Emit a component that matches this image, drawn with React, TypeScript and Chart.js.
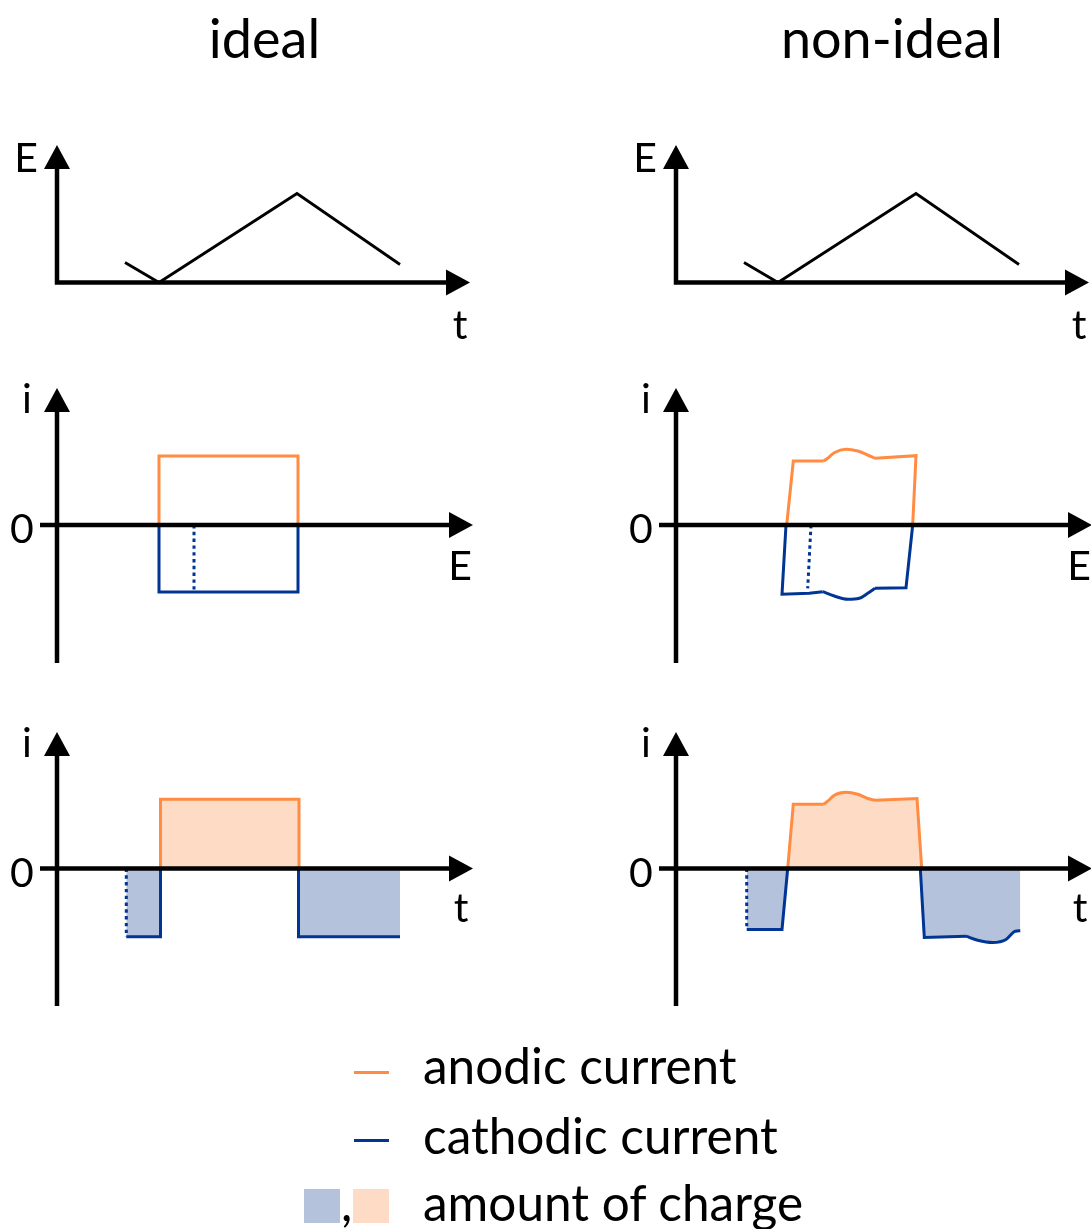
import React, { useEffect, useRef } from "react";
import { Chart, registerables } from "chart.js";
Chart.register(...registerables);

// ---------- colours ----------
const ORANGE = "#FF8C42";
const BLUE = "#003594";
const ORANGE_FILL = "#FDDBC4";
const BLUE_FILL = "#B4C2DC";
const FONT = "Lato, 'Open Sans', sans-serif";

// ---------- titles / legend ----------
const columnTitles = ["ideal", "non-ideal"];
const legendLabels = ["anodic current", "cathodic current", "amount of charge"];

// ---------- row 1 : potential program E(t) (same in both columns) ----------
const sweepTime = [6.8, 10.2, 24.0, 34.3];
const sweepPotential = [2.0, 0, 8.9, 1.8];

// ---------- row 2 : ideal CV i(E) ----------
const cvIdealE = [10.2, 10.2, 24.1, 24.1];
const cvIdealAnodicI = [0, 6.9, 6.9, 0];
const cvIdealCathodicI = [0, -6.7, -6.7, 0];
const cvIdealStartE = [13.7, 13.7];
const cvIdealStartI = [0, -6.7];

// ---------- row 2 : non-ideal CV i(E) ----------
const cvRealAnodicRiseE = [11.07, 11.73, 14.77];
const cvRealAnodicRiseI = [0, 6.4, 6.4];
const cvRealAnodicPeakE = [14.77, 15.17, 15.83, 17.0, 18.17, 19.17, 19.9];
const cvRealAnodicPeakI = [6.4, 6.67, 7.23, 7.57, 7.4, 7.0, 6.67];
const cvRealAnodicFallE = [19.9, 24.0, 23.67];
const cvRealAnodicFallI = [6.67, 6.93, 0];
const cvRealCathodicLeftE = [11.0, 10.6, 13.33, 14.67];
const cvRealCathodicLeftI = [0, -6.93, -6.83, -6.67];
const cvRealCathodicPeakE = [14.67, 15.83, 17.17, 18.33, 19.17, 19.9];
const cvRealCathodicPeakI = [-6.67, -7.1, -7.43, -7.33, -6.83, -6.33];
const cvRealCathodicRightE = [19.9, 23.0, 23.67];
const cvRealCathodicRightI = [-6.33, -6.27, 0];
const cvRealStartE = [13.5, 13.17];
const cvRealStartI = [0, -6.33];

// ---------- row 3 : ideal i(t) ----------
const itIdealPreDotT = [6.93, 6.93];
const itIdealPreDotI = [0, -6.83];
const itIdealPreT = [6.93, 10.35, 10.35];
const itIdealPreI = [-6.83, -6.83, 0];
const itIdealAnodicT = [10.35, 10.35, 24.2, 24.2];
const itIdealAnodicI = [0, 6.93, 6.93, 0];
const itIdealPostT = [24.15, 24.15, 34.3];
const itIdealPostI = [0, -6.83, -6.83];

// ---------- row 3 : non-ideal i(t) ----------
const itRealPreDotT = [7.07, 7.07];
const itRealPreDotI = [0, -6.0];
const itRealPreT = [7.07, 10.6, 11.17];
const itRealPreI = [-6.1, -6.1, 0];
const itRealAnodicRiseT = [11.17, 11.73, 14.77];
const itRealAnodicRiseI = [0, 6.43, 6.43];
const itRealAnodicPeakT = [14.77, 15.17, 15.83, 17.0, 18.17, 19.17, 19.9];
const itRealAnodicPeakI = [6.43, 6.73, 7.33, 7.63, 7.43, 7.0, 6.83];
const itRealAnodicFallT = [19.9, 24.1, 24.57];
const itRealAnodicFallI = [6.83, 7.0, 0];
const itRealPostT = [24.43, 24.83, 29.0];
const itRealPostI = [0, -6.9, -6.77];
const itRealDipT = [29.0, 30.17, 31.67, 33.0, 33.93, 34.43];
const itRealDipI = [-6.77, -7.17, -7.4, -7.1, -6.27, -6.23];

// ---------- helpers ----------
type Pt = { x: number; y: number };
const zip = (xs: number[], ys: number[]): Pt[] => xs.map((x, i) => ({ x, y: ys[i] }));
const join = (...parts: Pt[][]): Pt[] => {
  const out: Pt[] = [];
  parts.forEach((p, k) => out.push(...(k === 0 ? p : p.slice(1))));
  return out;
};

const line = (data: Pt[], color: string, extra: any = {}) => ({
  data,
  borderColor: color,
  borderWidth: 3,
  pointRadius: 0,
  fill: false,
  tension: 0,
  order: 1,
  ...extra,
});
const smooth = (data: Pt[], color: string) => line(data, color, { cubicInterpolationMode: "monotone" });
const dotted = (data: Pt[], color: string) => line(data, color, { borderDash: [3.4, 3.4] });
const area = (data: Pt[], color: string) => ({
  data,
  borderColor: "rgba(0,0,0,0)",
  borderWidth: 0,
  backgroundColor: color,
  pointRadius: 0,
  fill: "origin",
  tension: 0,
  order: 5,
});

// ---------- axis + arrow plugin ----------
const arrowAxesPlugin = {
  id: "arrowAxes",
  afterDatasetsDraw(chart: any, _a: any, o: any) {
    const { ctx } = chart;
    const sx = chart.scales.x;
    const sy = chart.scales.y;
    const ox = sx.getPixelForValue(0);
    const oy = sy.getPixelForValue(0);
    const x0 = sx.getPixelForValue(o.xFrom);
    const x1 = sx.getPixelForValue(o.xTo);
    const y0 = sy.getPixelForValue(o.yFrom);
    const y1 = sy.getPixelForValue(o.yTo);
    const lw = 4.5;
    const head = 24;
    const half = 13;
    ctx.save();
    ctx.strokeStyle = "#000";
    ctx.fillStyle = "#000";
    ctx.lineWidth = lw;
    ctx.lineCap = "butt";
    ctx.beginPath();
    ctx.moveTo(Math.min(x0, ox - lw / 2), oy);
    ctx.lineTo(x1 - head + 1, oy);
    ctx.moveTo(ox, Math.max(y0, oy + lw / 2));
    ctx.lineTo(ox, y1 + head - 1);
    ctx.stroke();
    ctx.beginPath();
    ctx.moveTo(x1, oy);
    ctx.lineTo(x1 - head, oy - half);
    ctx.lineTo(x1 - head, oy + half);
    ctx.closePath();
    ctx.fill();
    ctx.beginPath();
    ctx.moveTo(ox, y1);
    ctx.lineTo(ox - half, y1 + head);
    ctx.lineTo(ox + half, y1 + head);
    ctx.closePath();
    ctx.fill();
    ctx.font = `41px ${FONT}`;
    ctx.textAlign = "center";
    ctx.textBaseline = "alphabetic";
    for (const l of o.labels) {
      const ax = l.ref === "xTip" ? x1 : ox;
      const ay = l.ref === "yTip" ? y1 : oy;
      ctx.fillText(l.text, ax + l.dx, ay + l.dy);
    }
    ctx.restore();
  },
};

const PX_PER_UNIT = 10;

type PanelProps = {
  left: number;
  top: number;
  width: number;
  height: number;
  originX: number;
  originY: number;
  datasets: any[];
  axes: any;
};

function Panel({ left, top, width, height, originX, originY, datasets, axes }: PanelProps) {
  const ref = useRef<HTMLCanvasElement>(null);
  useEffect(() => {
    if (!ref.current) return;
    const chart = new Chart(ref.current, {
      type: "line",
      data: { datasets },
      options: {
        responsive: false,
        maintainAspectRatio: false,
        animation: false,
        events: [],
        layout: { padding: 0 },
        scales: {
          x: {
            type: "linear",
            display: false,
            min: -(originX - left) / PX_PER_UNIT,
            max: (left + width - originX) / PX_PER_UNIT,
          },
          y: {
            type: "linear",
            display: false,
            min: -(top + height - originY) / PX_PER_UNIT,
            max: (originY - top) / PX_PER_UNIT,
          },
        },
        elements: {
          point: { radius: 0 },
          line: { borderJoinStyle: "miter", borderCapStyle: "butt" },
        },
        plugins: {
          legend: { display: false },
          tooltip: { enabled: false },
          arrowAxes: axes,
        } as any,
      },
      plugins: [arrowAxesPlugin],
    } as any);
    return () => chart.destroy();
  }, []);
  return (
    <canvas
      ref={ref}
      width={width}
      height={height}
      style={{ position: "absolute", left, top, width, height }}
    />
  );
}

// ---------- panel definitions ----------
const ROW_TOPS = [120, 370, 710];
const ROW_HEIGHTS = [230, 320, 320];
const ROW_ORIGIN_Y = [282.5, 525, 868.5];
const COLS = [
  { left: 0, width: 545, originX: 57 },
  { left: 560, width: 531, originX: 676 },
];

const sweepAxes = {
  xFrom: 0,
  xTo: 41.3,
  yFrom: 0,
  yTo: 13.75,
  labels: [
    { text: "E", ref: "yTip", dx: -31, dy: 27 },
    { text: "t", ref: "xTip", dx: -10, dy: 56 },
  ],
};
const cvAxes = {
  xFrom: -1.7,
  xTo: 41.6,
  yFrom: -13.8,
  yTo: 13.7,
  labels: [
    { text: "i", ref: "yTip", dx: -30, dy: 25 },
    { text: "0", ref: "origin", dx: -35, dy: 18 },
    { text: "E", ref: "xTip", dx: -13, dy: 55 },
  ],
};
const itAxes = {
  xFrom: -1.7,
  xTo: 41.6,
  yFrom: -13.75,
  yTo: 13.65,
  labels: [
    { text: "i", ref: "yTip", dx: -30, dy: 25 },
    { text: "0", ref: "origin", dx: -35, dy: 18.5 },
    { text: "t", ref: "xTip", dx: -12, dy: 53 },
  ],
};

const sweepSets = () => [line(zip(sweepTime, sweepPotential), "#000", { borderWidth: 2.8 })];

const cvIdealSets = [
  line(zip(cvIdealE, cvIdealAnodicI), ORANGE),
  line(zip(cvIdealE, cvIdealCathodicI), BLUE),
  dotted(zip(cvIdealStartE, cvIdealStartI), BLUE),
];

const cvRealSets = [
  line(zip(cvRealAnodicRiseE, cvRealAnodicRiseI), ORANGE),
  smooth(zip(cvRealAnodicPeakE, cvRealAnodicPeakI), ORANGE),
  line(zip(cvRealAnodicFallE, cvRealAnodicFallI), ORANGE),
  line(zip(cvRealCathodicLeftE, cvRealCathodicLeftI), BLUE),
  smooth(zip(cvRealCathodicPeakE, cvRealCathodicPeakI), BLUE),
  line(zip(cvRealCathodicRightE, cvRealCathodicRightI), BLUE),
  dotted(zip(cvRealStartE, cvRealStartI), BLUE),
];

const itIdealSets = [
  dotted(zip(itIdealPreDotT, itIdealPreDotI), BLUE),
  line(zip(itIdealPreT, itIdealPreI), BLUE),
  line(zip(itIdealAnodicT, itIdealAnodicI), ORANGE),
  line(zip(itIdealPostT, itIdealPostI), BLUE),
  area(join(zip(itIdealPreDotT, itIdealPreDotI), zip(itIdealPreT, itIdealPreI)), BLUE_FILL),
  area(zip(itIdealAnodicT, itIdealAnodicI), ORANGE_FILL),
  area(zip(itIdealPostT, itIdealPostI), BLUE_FILL),
];

const itRealSets = [
  dotted(zip(itRealPreDotT, itRealPreDotI), BLUE),
  line(zip(itRealPreT, itRealPreI), BLUE),
  line(zip(itRealAnodicRiseT, itRealAnodicRiseI), ORANGE),
  smooth(zip(itRealAnodicPeakT, itRealAnodicPeakI), ORANGE),
  line(zip(itRealAnodicFallT, itRealAnodicFallI), ORANGE),
  line(zip(itRealPostT, itRealPostI), BLUE),
  smooth(zip(itRealDipT, itRealDipI), BLUE),
  area([{ x: itRealPreDotT[0], y: 0 }, ...zip(itRealPreT, itRealPreI)], BLUE_FILL),
  area(
    join(
      zip(itRealAnodicRiseT, itRealAnodicRiseI),
      zip(itRealAnodicPeakT, itRealAnodicPeakI),
      zip(itRealAnodicFallT, itRealAnodicFallI)
    ),
    ORANGE_FILL
  ),
  area(join(zip(itRealPostT, itRealPostI), zip(itRealDipT, itRealDipI)), BLUE_FILL),
];

const grid = [
  [sweepSets(), sweepSets()],
  [cvIdealSets, cvRealSets],
  [itIdealSets, itRealSets],
];
const rowAxes = [sweepAxes, cvAxes, itAxes];

// text positioned by baseline (Lato: baseline ≈ 0.887em below top with line-height 1)
function Text({ x, baseline, size, children, align = "left" }: any) {
  const top = baseline - 0.887 * size;
  const style: any = {
    position: "absolute",
    top,
    fontFamily: FONT,
    fontSize: size,
    lineHeight: `${size}px`,
    whiteSpace: "nowrap",
    color: "#000",
  };
  if (align === "center") {
    style.left = x - 300;
    style.width = 600;
    style.textAlign = "center";
  } else {
    style.left = x;
  }
  return <div style={style}>{children}</div>;
}

export default function App() {
  return (
    <div
      style={{
        position: "absolute",
        left: 0,
        top: 0,
        width: 1091,
        height: 1229,
        background: "#fff",
        overflow: "hidden",
      }}
    >
      <Text x={264.5} baseline={58.5} size={54} align="center">
        {columnTitles[0]}
      </Text>
      <Text x={892} baseline={58.5} size={54} align="center">
        {columnTitles[1]}
      </Text>
      {grid.map((row, r) =>
        row.map((sets, c) => (
          <Panel
            key={`${r}-${c}`}
            left={COLS[c].left}
            top={ROW_TOPS[r]}
            width={COLS[c].width}
            height={ROW_HEIGHTS[r]}
            originX={COLS[c].originX}
            originY={ROW_ORIGIN_Y[r]}
            datasets={sets}
            axes={rowAxes[r]}
          />
        ))
      )}
      {/* legend */}
      <div style={{ position: "absolute", left: 354, top: 1070.5, width: 35, height: 3, background: ORANGE }} />
      <div style={{ position: "absolute", left: 354, top: 1138.5, width: 35, height: 3, background: BLUE }} />
      <div style={{ position: "absolute", left: 304, top: 1189, width: 36, height: 34, background: BLUE_FILL }} />
      <div style={{ position: "absolute", left: 353, top: 1189, width: 36, height: 34, background: ORANGE_FILL }} />
      <Text x={341} baseline={1222} size={49.5}>
        ,
      </Text>
      <Text x={423} baseline={1085} size={49.5}>
        {legendLabels[0]}
      </Text>
      <Text x={423} baseline={1155} size={49.5}>
        {legendLabels[1]}
      </Text>
      <Text x={423} baseline={1222} size={49.5}>
        {legendLabels[2]}
      </Text>
    </div>
  );
}
